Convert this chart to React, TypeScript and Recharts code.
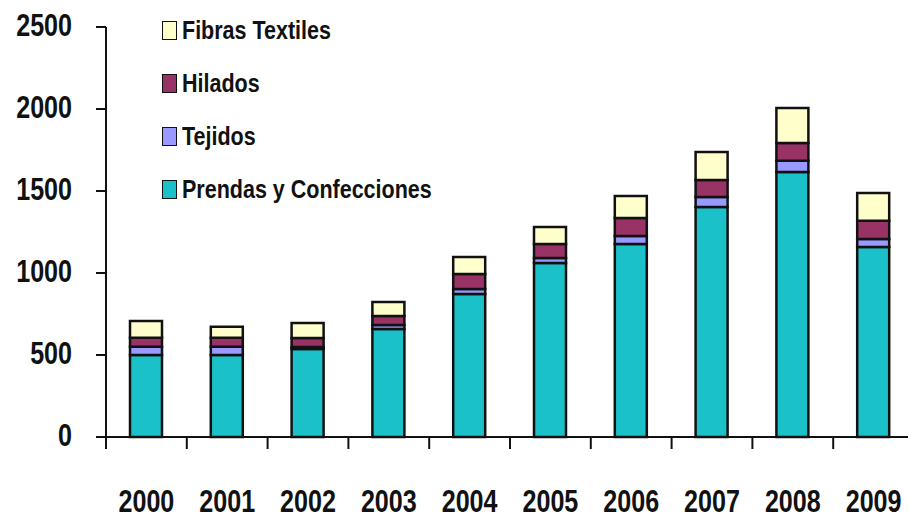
import { BarChart, Bar, XAxis, YAxis, Legend } from "recharts";

const years = ["2000", "2001", "2002", "2003", "2004", "2005", "2006", "2007", "2008", "2009"];
const prendas = [500, 500, 537, 659, 872, 1061, 1177, 1403, 1616, 1159];
const tejidos = [50, 50, 12, 24, 31, 31, 49, 61, 68, 49];
const hilados = [55, 55, 55, 55, 91, 85, 110, 103, 109, 110];
const fibras = [103, 67, 91, 85, 104, 104, 134, 171, 213, 170];
const yTicks = [0, 500, 1000, 1500, 2000, 2500];
const legendOrder = ["Fibras Textiles", "Hilados", "Tejidos", "Prendas y Confecciones"];

const data = years.map((year, i) => ({
    year,
    prendas: prendas[i],
    tejidos: tejidos[i],
    hilados: hilados[i],
    fibras: fibras[i],
}));

const FONT = '"Liberation Sans", Arial, sans-serif';
const INK = "#111111";

function YearTick(props: any) {
    const { x, y, payload, index, visibleTicksCount } = props;
    const half = payload?.offset || 40.4;
    const last = index === visibleTicksCount - 1;
    return (
        <g>
            <line x1={x - half} y1={y} x2={x - half} y2={y + 12} stroke={INK} strokeWidth={2} />
            {last && (
                <line x1={x + half} y1={y} x2={x + half} y2={y + 12} stroke={INK} strokeWidth={2} />
            )}
            <text
                transform={`translate(${x},${y + 75}) scale(0.81,1)`}
                textAnchor="middle"
                fontFamily={FONT}
                fontWeight="bold"
                fontSize={31}
                fill={INK}
            >
                {payload.value}
            </text>
        </g>
    );
}

function ValueTick(props: any) {
    const { x, y, payload } = props;
    return (
        <text
            transform={`translate(${x},${y + 9}) scale(0.81,1)`}
            textAnchor="end"
            fontFamily={FONT}
            fontWeight="bold"
            fontSize={31}
            fill={INK}
        >
            {payload.value}
        </text>
    );
}

function LegendList({ payload }: any) {
    const items = [...(payload || [])].sort(
        (a: any, b: any) => legendOrder.indexOf(a.value) - legendOrder.indexOf(b.value)
    );
    return (
        <div style={{ fontFamily: FONT, fontWeight: "bold", fontSize: 25, color: INK }}>
            {items.map((item: any) => (
                <div
                    key={item.value}
                    style={{ display: "flex", alignItems: "center", height: 53, whiteSpace: "nowrap" }}
                >
                    <span
                        style={{
                            display: "inline-block",
                            flex: "none",
                            width: 13,
                            height: 17,
                            background: item.color,
                            border: "1.5px solid #111",
                            marginRight: 5,
                        }}
                    />
                    <span style={{ display: "inline-block", transform: "scaleX(0.86)", transformOrigin: "left center" }}>
                        {item.value}
                    </span>
                </div>
            ))}
        </div>
    );
}

export default function App() {
    return (
        <div
            style={{
                position: "absolute",
                left: 0,
                top: 0,
                width: 908,
                height: 518,
                overflow: "hidden",
                background: "#fff",
            }}
        >
            <BarChart
                width={914}
                height={518}
                data={data}
                margin={{ top: 27, right: 0, left: 0, bottom: 0 }}
                barSize={32}
            >
                <XAxis
                    dataKey="year"
                    height={81}
                    tickSize={0}
                    tickMargin={0}
                    tickLine={false}
                    axisLine={{ stroke: INK, strokeWidth: 2 }}
                    tick={<YearTick />}
                    interval={0}
                />
                <YAxis
                    width={106}
                    domain={[0, 2500]}
                    ticks={yTicks}
                    tickSize={10}
                    tickMargin={24}
                    axisLine={{ stroke: INK, strokeWidth: 2 }}
                    tickLine={{ stroke: INK, strokeWidth: 2 }}
                    tick={<ValueTick />}
                />
                <Legend
                    layout="vertical"
                    align="center"
                    verticalAlign="middle"
                    content={<LegendList />}
                    wrapperStyle={{ position: "absolute", left: 162, top: 4, width: 320 }}
                />
                <Bar dataKey="prendas" name="Prendas y Confecciones" stackId="a" fill="#1BC1C8" stroke={INK} strokeWidth={2.5} isAnimationActive={false} />
                <Bar dataKey="tejidos" name="Tejidos" stackId="a" fill="#9999FF" stroke={INK} strokeWidth={2.5} isAnimationActive={false} />
                <Bar dataKey="hilados" name="Hilados" stackId="a" fill="#993366" stroke={INK} strokeWidth={2.5} isAnimationActive={false} />
                <Bar dataKey="fibras" name="Fibras Textiles" stackId="a" fill="#FFFFCC" stroke={INK} strokeWidth={2.5} isAnimationActive={false} />
            </BarChart>
        </div>
    );
}
